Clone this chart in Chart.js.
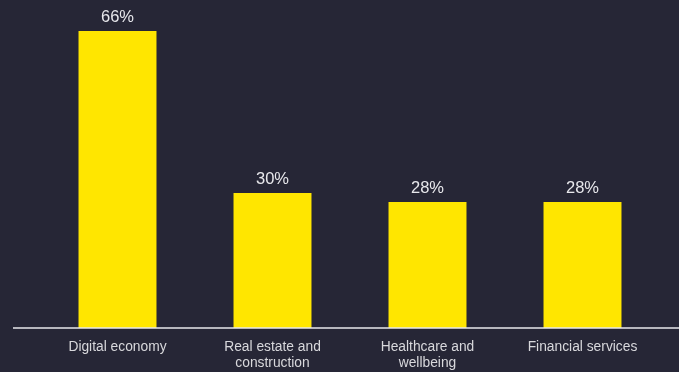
<!DOCTYPE html>
<html>
<head>
<meta charset="utf-8">
<script src="https://cdn.jsdelivr.net/npm/chart.js@4"></script>
<style>
  html, body { margin: 0; padding: 0; background: #262636; }
  #wrap { width: 679px; height: 372px; }
</style>
</head>
<body>
<div id="wrap"><canvas id="sectorsChart"></canvas></div>
<script>
  var categories = ['Digital economy', ['Real estate and', 'construction'], ['Healthcare and', 'wellbeing'], 'Financial services'];
  var shares = [66, 30, 28, 28];

  // valeurs au-dessus des barres + ligne de base
  var extras = {
    id: 'extras',
    afterDatasetsDraw: function(chart) {
      var ctx = chart.ctx;
      var meta = chart.getDatasetMeta(0);
      ctx.save();
      ctx.fillStyle = '#e8e8ec';
      ctx.font = '16.5px "Liberation Sans", Arial, sans-serif';
      ctx.textAlign = 'center';
      ctx.textBaseline = 'bottom';
      meta.data.forEach(function(bar, i) {
        ctx.fillText(shares[i] + '%', bar.x, bar.y - 5);
      });
      var y0 = chart.scales.y.getPixelForValue(0);
      ctx.strokeStyle = '#e8e8ec';
      ctx.lineWidth = 1.5;
      ctx.beginPath();
      ctx.moveTo(13, y0);
      ctx.lineTo(chart.width, y0);
      ctx.stroke();
      ctx.restore();
    }
  };

  var ctxSectors = document.getElementById('sectorsChart').getContext('2d');
  new Chart(ctxSectors, {
    type: 'bar',
    data: {
      labels: categories,
      datasets: [{
        data: shares,
        backgroundColor: '#ffe600',
        borderWidth: 0,
        categoryPercentage: 1,
        barPercentage: 0.503
      }]
    },
    options: {
      responsive: true,
      maintainAspectRatio: false,
      animation: false,
      layout: { padding: { left: 40, right: 19, top: 13, bottom: 0 } },
      plugins: { legend: { display: false }, tooltip: { enabled: false } },
      scales: {
        x: {
          grid: { display: false, drawTicks: false },
          border: { display: false },
          ticks: {
            color: '#d8d8dc',
            font: { family: '"Liberation Sans", Arial, sans-serif', size: 13.8, lineHeight: 1.18 },
            padding: 11,
            maxRotation: 0,
            autoSkip: false
          },
          afterFit: function(scale) { scale.height = 44; }
        },
        y: {
          display: false,
          min: 0,
          max: 70
        }
      }
    },
    plugins: [extras]
  });
</script>
</body>
</html>
